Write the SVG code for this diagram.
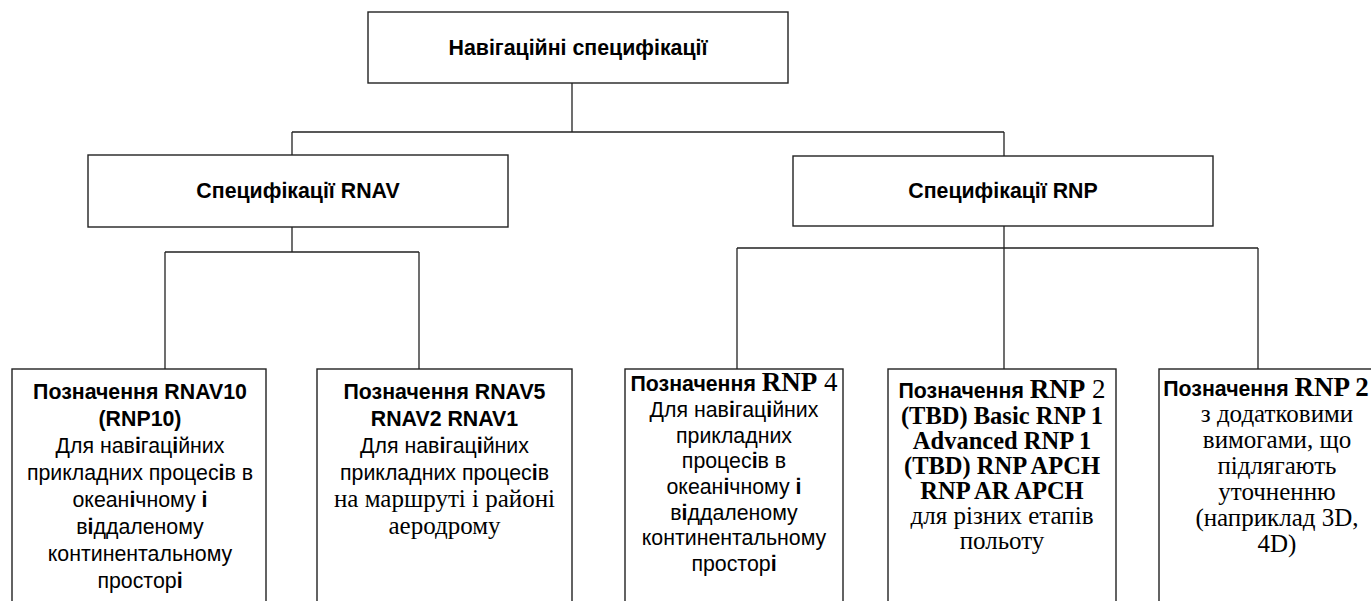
<svg xmlns="http://www.w3.org/2000/svg" width="1371" height="601" viewBox="0 0 1371 601">
<style>
.box{fill:#fff;stroke:#222;stroke-width:1.4}
.con{fill:none;stroke:#222;stroke-width:1.3}
text{text-anchor:middle;fill:#000}
.h{font-family:"Liberation Sans",Arial,sans-serif;font-weight:bold;font-size:21.33px}
.t{font-family:"Liberation Sans",Arial,sans-serif;font-weight:bold;font-size:21.33px}
.r{font-family:"Liberation Sans",Arial,sans-serif;font-size:21.33px}
.s{font-family:"Liberation Serif","Times New Roman",serif;font-size:25px}
.sb{font-family:"Liberation Serif","Times New Roman",serif;font-size:24.5px;font-weight:bold}
.sbt{font-family:"Liberation Serif","Times New Roman",serif;font-size:27px;font-weight:bold}
.st{font-family:"Liberation Serif","Times New Roman",serif;font-size:27px}
.b{font-weight:bold}
</style>
<g id="connectors">
<path class="con" d="M572 83V132M292 132H1004M292 132V155M1004 132V156"/>
<path class="con" d="M292 227V252M165 252H419M165 252V369M419 252V369"/>
<path class="con" d="M1004 226V248M737 248H1258M737 248V369M1004 248V369M1258 248V369"/>
</g>
<g id="root">
<rect class="box" x="368" y="12" width="420" height="71"/>
<text class="h" x="578" y="55">Навігаційні специфікації</text>
</g>
<g id="rnav">
<rect class="box" x="88" y="155" width="420" height="72"/>
<text class="h" x="298" y="198">Специфікації RNAV</text>
</g>
<g id="rnp">
<rect class="box" x="793" y="156" width="420" height="70"/>
<text class="h" x="1003" y="198">Специфікації RNP</text>
</g>
<g id="rnav10">
<rect class="box" x="12" y="369" width="254" height="250"/>
<text class="t" x="140" y="399">Позначення RNAV10</text>
<text class="t" x="140" y="426">(RNP10)</text>
<text class="r" x="140" y="453">Для нав<tspan class="b">і</tspan>гац<tspan class="b">і</tspan>йних</text>
<text class="r" x="140" y="480">прикладних процес<tspan class="b">і</tspan>в в</text>
<text class="r" x="140" y="507">океан<tspan class="b">і</tspan>чному <tspan class="b">і</tspan></text>
<text class="r" x="140" y="534">в<tspan class="b">і</tspan>ддаленому</text>
<text class="r" x="140" y="561">континентальному</text>
<text class="r" x="140" y="588">простор<tspan class="b">і</tspan></text>
</g>
<g id="rnav5">
<rect class="box" x="317" y="369" width="255" height="250"/>
<text class="t" x="444.5" y="399">Позначення RNAV5</text>
<text class="t" x="444.5" y="426">RNAV2 RNAV1</text>
<text class="r" x="444.5" y="453">Для нав<tspan class="b">і</tspan>гац<tspan class="b">і</tspan>йних</text>
<text class="r" x="444.5" y="480">прикладних процес<tspan class="b">і</tspan>в</text>
<text class="s" x="444.5" y="507">на маршруті і районі</text>
<text class="s" x="444.5" y="534">аеродрому</text>
</g>
<g id="rnp4">
<rect class="box" x="625" y="369" width="218" height="250"/>
<text x="734" y="391"><tspan class="t">Позначення </tspan><tspan class="sbt">RNP</tspan><tspan class="st"> 4</tspan></text>
<text class="r" x="734" y="417">Для нав<tspan class="b">і</tspan>гац<tspan class="b">і</tspan>йних</text>
<text class="r" x="734" y="443">прикладних</text>
<text class="r" x="734" y="468">процес<tspan class="b">і</tspan>в в</text>
<text class="r" x="734" y="494">океан<tspan class="b">і</tspan>чному <tspan class="b">і</tspan></text>
<text class="r" x="734" y="520">в<tspan class="b">і</tspan>ддаленому</text>
<text class="r" x="734" y="545">континентальному</text>
<text class="r" x="734" y="571">простор<tspan class="b">і</tspan></text>
</g>
<g id="rnp2">
<rect class="box" x="888" y="369" width="228" height="250"/>
<text x="1002" y="398"><tspan class="t">Позначення </tspan><tspan class="sbt">RNP</tspan><tspan class="st"> 2</tspan></text>
<text class="sb" x="1002" y="424">(TBD) Basic RNP 1</text>
<text class="sb" x="1002" y="449">Advanced RNP 1</text>
<text class="sb" x="1002" y="474">(TBD) RNP APCH</text>
<text class="sb" x="1002" y="499">RNP AR APCH</text>
<text class="s" x="1002" y="524">для різних етапів</text>
<text class="s" x="1002" y="549">польоту</text>
</g>
<g id="rnp2x">
<rect class="box" x="1159" y="369" width="240" height="250"/>
<text x="1266" y="396"><tspan class="t">Позначення </tspan><tspan class="sbt">RNP 2</tspan></text>
<text class="s" x="1277" y="422">з додатковими</text>
<text class="s" x="1277" y="448">вимогами, що</text>
<text class="s" x="1277" y="474">підлягають</text>
<text class="s" x="1277" y="500">уточненню</text>
<text class="s" x="1277" y="526">(наприклад 3D,</text>
<text class="s" x="1277" y="552">4D)</text>
</g>
</svg>
